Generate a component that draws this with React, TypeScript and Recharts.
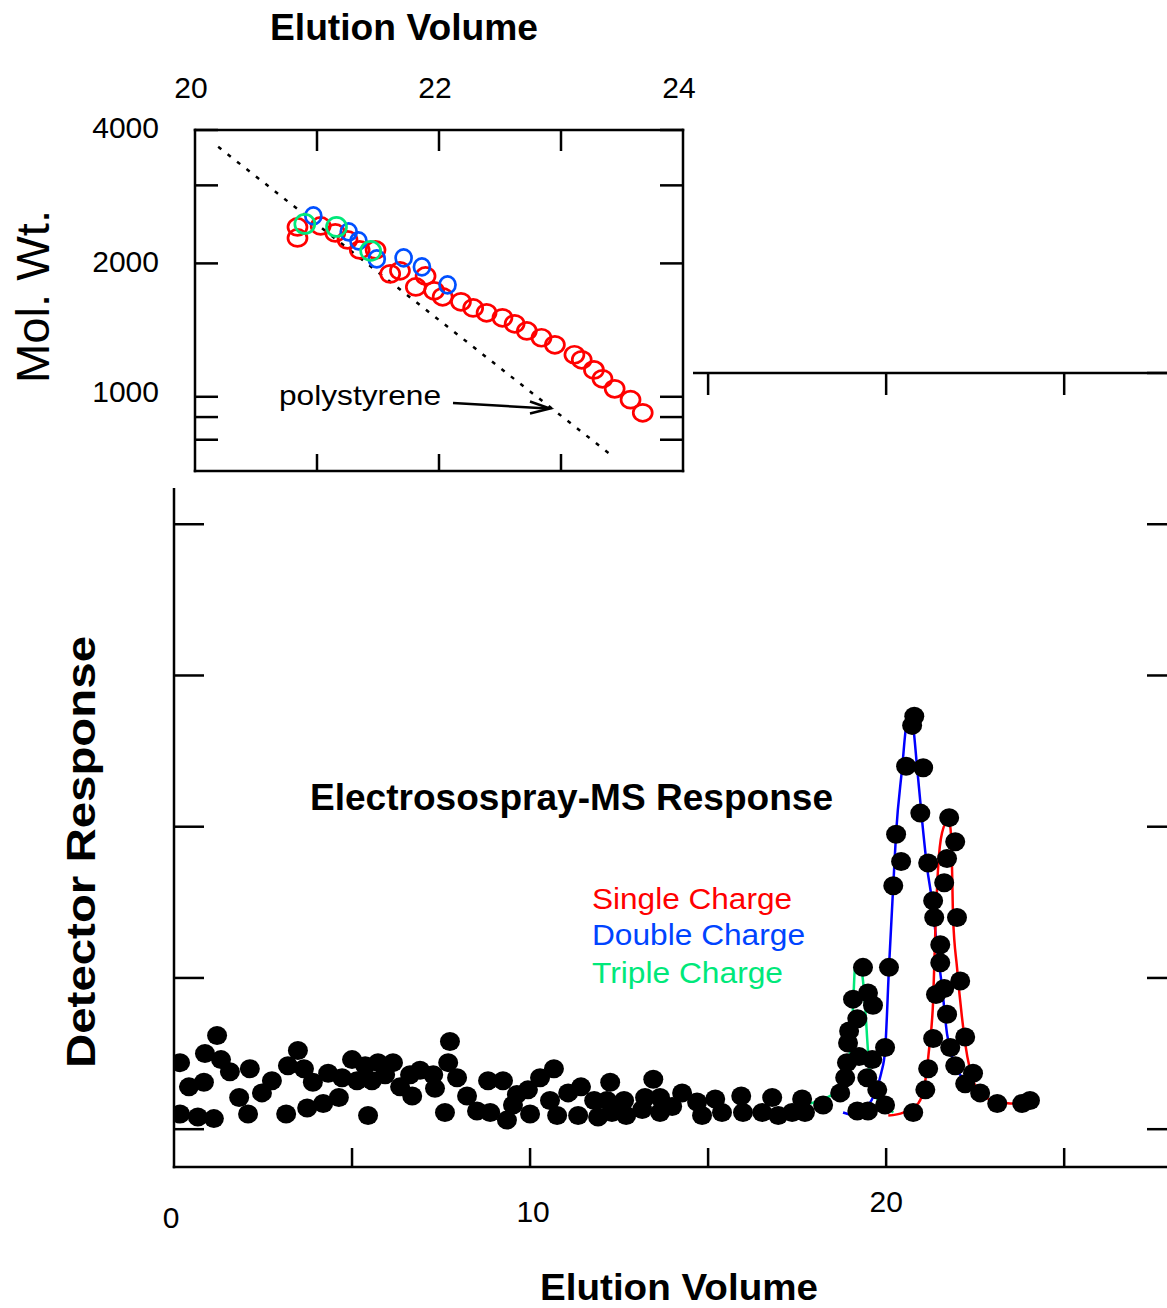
import React from 'react'
import { ComposedChart, Scatter, Line, XAxis, YAxis } from 'recharts'

const FONT = '"Liberation Sans", Arial, Helvetica, sans-serif'

// ---- main panel: detector response vs elution volume ----
const responseDots: [number, number][] = [
  [0.17, 0.44], [0.17, 0.10], [0.42, 0.28], [0.67, 0.08], [0.84, 0.31], [0.87, 0.50],
  [1.12, 0.07], [1.21, 0.62], [1.32, 0.46], [1.57, 0.38], [1.83, 0.21], [2.08, 0.10],
  [2.13, 0.40], [2.47, 0.24], [2.75, 0.32], [3.15, 0.10], [3.20, 0.42], [3.48, 0.52],
  [3.65, 0.40], [3.74, 0.14], [3.90, 0.31], [4.19, 0.17], [4.33, 0.37], [4.63, 0.21],
  [4.72, 0.34], [5.00, 0.46], [5.14, 0.32], [5.37, 0.42], [5.45, 0.09], [5.56, 0.32],
  [5.73, 0.44], [5.93, 0.36], [6.15, 0.44], [6.35, 0.28], [6.63, 0.36], [6.69, 0.22],
  [6.91, 0.39], [7.28, 0.36], [7.33, 0.27], [7.61, 0.11], [7.70, 0.44], [7.75, 0.58],
  [7.95, 0.34], [8.23, 0.22], [8.51, 0.12], [8.82, 0.32], [8.88, 0.11], [9.24, 0.32],
  [9.35, 0.06], [9.52, 0.16], [9.63, 0.23], [9.94, 0.26], [10.0, 0.10], [10.28, 0.34],
  [10.56, 0.19], [10.67, 0.40], [10.76, 0.09], [11.07, 0.24], [11.35, 0.09], [11.43, 0.28],
  [11.80, 0.19], [11.91, 0.08], [12.16, 0.19], [12.25, 0.31], [12.30, 0.11], [12.64, 0.19],
  [12.70, 0.09], [13.15, 0.13], [13.23, 0.21], [13.46, 0.33], [13.65, 0.21], [13.65, 0.11],
  [13.99, 0.15], [14.27, 0.24], [14.69, 0.18], [14.83, 0.09], [15.20, 0.20], [15.39, 0.11],
  [15.93, 0.22], [15.98, 0.11], [16.52, 0.11], [16.80, 0.21], [16.97, 0.09], [17.36, 0.11],
  [17.64, 0.20], [17.72, 0.11], [18.23, 0.16],
  // peaks
  [18.71, 0.24], [18.85, 0.34], [18.90, 0.44], [18.93, 0.57], [18.96, 0.65], [19.07, 0.86],
  [19.19, 0.73], [19.24, 0.48], [19.35, 1.07], [19.47, 0.34], [19.49, 0.90], [19.61, 0.46],
  [19.63, 0.82], [19.75, 0.26], [19.19, 0.12], [19.49, 0.12], [19.97, 0.16], [19.97, 0.54],
  [20.08, 1.07], [20.20, 1.61], [20.28, 1.95], [20.42, 1.77], [20.56, 2.40], [20.73, 2.67],
  [20.79, 2.73], [21.04, 2.39], [20.96, 2.09], [20.76, 0.11], [21.18, 1.76], [21.10, 0.26],
  [21.18, 0.40], [21.32, 1.51], [21.35, 1.40], [21.32, 0.60], [21.40, 0.89], [21.52, 1.22],
  [21.52, 1.10], [21.63, 1.63], [21.63, 0.93], [21.71, 1.79], [21.71, 0.76], [21.77, 2.06],
  [21.80, 0.54], [21.94, 1.90], [21.99, 1.40], [22.08, 0.98], [22.22, 0.61], [21.94, 0.42],
  [22.44, 0.37], [22.22, 0.30], [22.64, 0.24], [23.12, 0.17], [23.82, 0.17], [24.04, 0.19],
]

const singleCurve: [number, number][] = [
  [20.06, 0.09], [20.48, 0.11], [20.90, 0.17], [21.10, 0.32], [21.21, 0.54], [21.32, 0.85],
  [21.38, 1.30], [21.46, 1.73], [21.57, 1.96], [21.71, 2.03], [21.80, 2.00], [21.85, 1.73],
  [21.88, 1.40], [21.99, 1.07], [22.13, 0.74], [22.28, 0.48], [22.42, 0.34], [22.72, 0.22],
  [23.01, 0.19], [23.48, 0.17], [23.71, 0.17],
]

const doubleCurve: [number, number][] = [
  [18.79, 0.11], [19.16, 0.09], [19.44, 0.14], [19.69, 0.24], [19.86, 0.37], [19.97, 0.52],
  [20.08, 1.07], [20.20, 1.61], [20.28, 1.96], [20.45, 2.39], [20.56, 2.66], [20.67, 2.74],
  [20.76, 2.66], [20.87, 2.39], [21.01, 2.04], [21.15, 1.73], [21.29, 1.51], [21.43, 1.20],
  [21.57, 0.94], [21.71, 0.63], [21.88, 0.46], [22.13, 0.34], [22.36, 0.27], [22.64, 0.22],
]

const tripleCurve: [number, number][] = [
  [17.87, 0.17], [18.43, 0.22], [18.71, 0.27], [18.85, 0.36], [18.99, 0.52], [19.07, 0.81],
  [19.13, 1.08], [19.21, 1.10], [19.33, 1.02], [19.41, 0.81], [19.49, 0.52], [19.58, 0.30],
  [19.78, 0.19], [20.11, 0.13], [20.20, 0.11],
]

const mainXTicks = [0, 5, 10, 15, 20, 25]
const mainYTicks = [0, 1, 2, 3, 4, 5]

// ---- inset: molecular weight vs elution volume ----
const singleMw: [number, number][] = [
  [20.84, 2417], [20.84, 2283], [21.03, 2430], [21.15, 2343], [21.25, 2260], [21.35, 2145],
  [21.48, 2145], [21.60, 1894], [21.68, 1924], [21.81, 1770], [21.89, 1874], [21.96, 1734],
  [22.03, 1681], [22.18, 1638], [22.28, 1587], [22.39, 1547], [22.52, 1507], [22.62, 1461],
  [22.72, 1408], [22.84, 1359], [22.95, 1310], [23.11, 1244], [23.17, 1212], [23.27, 1150],
  [23.34, 1098], [23.44, 1042], [23.57, 985], [23.67, 920],
]
const doubleMw: [number, number][] = [
  [20.97, 2560], [21.26, 2355], [21.34, 2248], [21.49, 2047], [21.71, 2058], [21.86, 1964], [22.07, 1789],
]
const tripleMw: [number, number][] = [[20.90, 2455], [21.16, 2417], [21.44, 2134]]
const polystyrene: [number, number][] = [[20.19, 3665], [23.43, 732]]

const insetXTicks = [20, 21, 22, 23, 24]
const insetXLabels = [20, 22, 24]
const insetYTicks = [800, 900, 1000, 2000, 3000, 4000]
const insetYLabels = [1000, 2000, 4000]

const RED = '#ff0000'
const BLUE = '#0000ff'
const RING_BLUE = '#0050ff'
const GREEN = '#00e87a'
const LW = 2.5

const pts = (a: [number, number][]) => a.map(([x, y]) => ({ x, y }))

// label nudges copied from the figure (the labels are staggered)
const bottomLabelNudge: Record<number, [number, number]> = { 0: [-3, 61], 10: [3, 55], 20: [0, 45] }
const insetYNudge: Record<number, number> = { 1000: 5, 2000: 9, 4000: 8 }

function MainBottomTick({ x, y, payload }: any) {
  const v = payload.value
  const nudge = bottomLabelNudge[v]
  return (
    <g>
      {v !== 0 && <line x1={x} y1={y} x2={x} y2={y - 19} stroke="#000" strokeWidth={LW} />}
      {nudge && (
        <text x={x + nudge[0]} y={y + nudge[1]} textAnchor="middle" fontSize={30} fontFamily={FONT} fill="#000">
          {v}
        </text>
      )}
    </g>
  )
}

function MainTopTick({ x, y }: any) {
  return <line x1={x} y1={y} x2={x} y2={y + 22} stroke="#000" strokeWidth={LW} />
}

function MainLeftTick({ x, y }: any) {
  return <line x1={x} y1={y} x2={x + 30} y2={y} stroke="#000" strokeWidth={LW} />
}

function MainRightTick({ x, y }: any) {
  return <line x1={x} y1={y} x2={x - 24} y2={y} stroke="#000" strokeWidth={LW} />
}

function InsetTopTick({ x, y, payload }: any) {
  const v = payload.value
  const inner = v !== 20 && v !== 24
  return (
    <g>
      {inner && <line x1={x} y1={y} x2={x} y2={y + 21} stroke="#000" strokeWidth={LW} />}
      {insetXLabels.includes(v) && (
        <text x={x - 4} y={y - 32} textAnchor="middle" fontSize={30} fontFamily={FONT} fill="#000">
          {v}
        </text>
      )}
    </g>
  )
}

function InsetBottomTick({ x, y, payload }: any) {
  const v = payload.value
  if (v === 20 || v === 24) return <g />
  return <line x1={x} y1={y} x2={x} y2={y - 17} stroke="#000" strokeWidth={LW} />
}

function InsetLeftTick({ x, y, payload }: any) {
  const v = payload.value
  return (
    <g>
      <line x1={x} y1={y} x2={x + 23} y2={y} stroke="#000" strokeWidth={LW} />
      {insetYLabels.includes(v) && (
        <text x={159} y={y + insetYNudge[v]} textAnchor="end" fontSize={30} fontFamily={FONT} fill="#000">
          {v}
        </text>
      )}
    </g>
  )
}

function InsetRightTick({ x, y }: any) {
  return <line x1={x} y1={y} x2={x - 23} y2={y} stroke="#000" strokeWidth={LW} />
}

const blackDot = (p: any) => <ellipse cx={p.cx} cy={p.cy} rx={10} ry={9.5} fill="#000" />
const ring = (color: string, rx: number, ry: number) => (p: any) =>
  <ellipse cx={p.cx} cy={p.cy} rx={rx} ry={ry} fill="none" stroke={color} strokeWidth={2.7} />

const axisLine = { stroke: '#000', strokeWidth: LW, strokeLinecap: 'square' as const }

function MainChart() {
  return (
    <ComposedChart width={1172} height={1308} margin={{ top: 372, right: 0, bottom: 140, left: 0 }}>
      <XAxis
        xAxisId="b" orientation="bottom" type="number" dataKey="x" domain={[0, 28]} allowDataOverflow
        ticks={mainXTicks} interval={0} height={1} tickSize={0} tickMargin={0} tickLine={false}
        axisLine={axisLine} tick={(p: any) => <MainBottomTick {...p} />}
      />
      <XAxis
        xAxisId="t" orientation="top" type="number" dataKey="x" domain={[0, 28]} allowDataOverflow
        ticks={mainXTicks} interval={0} height={1} tickSize={0} tickMargin={0} tickLine={false}
        axisLine={axisLine} tick={(p: any) => <MainTopTick {...p} />}
      />
      <YAxis
        yAxisId="l" orientation="left" type="number" dataKey="y" domain={[-0.25, 5]} allowDataOverflow
        ticks={mainYTicks} interval={0} width={174} tickSize={0} tickMargin={0} tickLine={false}
        axisLine={axisLine} tick={(p: any) => <MainLeftTick {...p} />}
      />
      <YAxis
        yAxisId="r" orientation="right" type="number" domain={[-0.25, 5]} allowDataOverflow
        ticks={mainYTicks} interval={0} width={1} tickSize={0} tickMargin={0} tickLine={false}
        axisLine={axisLine} tick={(p: any) => <MainRightTick {...p} />}
      />
      <Line xAxisId="b" yAxisId="l" data={pts(tripleCurve)} dataKey="y" type="monotone" stroke={GREEN}
        strokeWidth={LW} dot={false} isAnimationActive={false} />
      <Line xAxisId="b" yAxisId="l" data={pts(doubleCurve)} dataKey="y" type="monotone" stroke={BLUE}
        strokeWidth={LW} dot={false} isAnimationActive={false} />
      <Line xAxisId="b" yAxisId="l" data={pts(singleCurve)} dataKey="y" type="monotone" stroke={RED}
        strokeWidth={LW} dot={false} isAnimationActive={false} />
      <Scatter xAxisId="b" yAxisId="l" data={pts(responseDots)} shape={blackDot} isAnimationActive={false} />
    </ComposedChart>
  )
}

function InsetChart() {
  return (
    <ComposedChart width={700} height={488} margin={{ top: 0, right: 7, bottom: 0, left: 0 }}>
      <XAxis
        xAxisId="t" orientation="top" type="number" dataKey="x" domain={[20, 24]} allowDataOverflow
        ticks={insetXTicks} interval={0} height={130} tickSize={0} tickMargin={0} tickLine={false}
        axisLine={axisLine} tick={(p: any) => <InsetTopTick {...p} />}
      />
      <XAxis
        xAxisId="b" orientation="bottom" type="number" dataKey="x" domain={[20, 24]} allowDataOverflow
        ticks={insetXTicks} interval={0} height={17} tickSize={0} tickMargin={0} tickLine={false}
        axisLine={axisLine} tick={(p: any) => <InsetBottomTick {...p} />}
      />
      <YAxis
        yAxisId="l" orientation="left" type="number" scale="log" dataKey="y" domain={[680, 4000]} allowDataOverflow
        ticks={insetYTicks} interval={0} width={195} tickSize={0} tickMargin={0} tickLine={false}
        axisLine={axisLine} tick={(p: any) => <InsetLeftTick {...p} />}
      />
      <YAxis
        yAxisId="r" orientation="right" type="number" scale="log" domain={[680, 4000]} allowDataOverflow
        ticks={insetYTicks} interval={0} width={10} tickSize={0} tickMargin={0} tickLine={false}
        axisLine={axisLine} tick={(p: any) => <InsetRightTick {...p} />}
      />
      <Line xAxisId="t" yAxisId="l" data={pts(polystyrene)} dataKey="y" type="linear" stroke="#000"
        strokeWidth={LW} strokeDasharray="4 8" dot={false} isAnimationActive={false} />
      <Scatter xAxisId="t" yAxisId="l" data={pts(singleMw)} shape={ring(RED, 9.5, 8.5)} isAnimationActive={false} />
      <Scatter xAxisId="t" yAxisId="l" data={pts(doubleMw)} shape={ring(RING_BLUE, 8, 8.5)} isAnimationActive={false} />
      <Scatter xAxisId="t" yAxisId="l" data={pts(tripleMw)} shape={ring(GREEN, 10, 9.5)} isAnimationActive={false} />
    </ComposedChart>
  )
}

export default function App() {
  return (
    <div style={{ position: 'fixed', left: 0, top: 0, width: 1167, height: 1308, overflow: 'hidden', background: '#fff' }}>
      <div style={{ position: 'absolute', left: 0, top: 0 }}>
        <MainChart />
      </div>
      <div style={{ position: 'absolute', left: 0, top: 0, width: 693, height: 488, background: '#fff' }} />
      <div style={{ position: 'absolute', left: 0, top: 0 }}>
        <InsetChart />
      </div>
      <svg width={1167} height={1308} style={{ position: 'absolute', left: 0, top: 0, pointerEvents: 'none' }}
        fontFamily={FONT}>
        <text x={270} y={40} fontSize={36} fontWeight="bold" textLength={268} lengthAdjust="spacingAndGlyphs">
          Elution Volume
        </text>
        <text transform="translate(49,383) rotate(-90)" fontSize={47} textLength={173} lengthAdjust="spacingAndGlyphs">
          Mol. Wt.
        </text>
        <text x={279} y={405} fontSize={28} textLength={162} lengthAdjust="spacingAndGlyphs">polystyrene</text>
        <line x1={453} y1={403} x2={548} y2={408.5} stroke="#000" strokeWidth={LW} />
        <polyline points="530,401.5 550,408.5 530,413.5" fill="none" stroke="#000" strokeWidth={LW} />
        <text transform="translate(95,1068) rotate(-90)" fontSize={41} fontWeight="bold" textLength={432}
          lengthAdjust="spacingAndGlyphs">
          Detector Response
        </text>
        <text x={310} y={810} fontSize={37} fontWeight="bold" textLength={523} lengthAdjust="spacingAndGlyphs">
          Electrosospray-MS Response
        </text>
        <text x={592} y={909} fontSize={30} fill={RED} textLength={200} lengthAdjust="spacingAndGlyphs">Single Charge</text>
        <text x={592} y={945} fontSize={30} fill="#0044ff" textLength={213} lengthAdjust="spacingAndGlyphs">Double Charge</text>
        <text x={592} y={983} fontSize={30} fill={GREEN} textLength={191} lengthAdjust="spacingAndGlyphs">Triple Charge</text>
        <text x={540} y={1300} fontSize={37} fontWeight="bold" textLength={278} lengthAdjust="spacingAndGlyphs">
          Elution Volume
        </text>
      </svg>
    </div>
  )
}
